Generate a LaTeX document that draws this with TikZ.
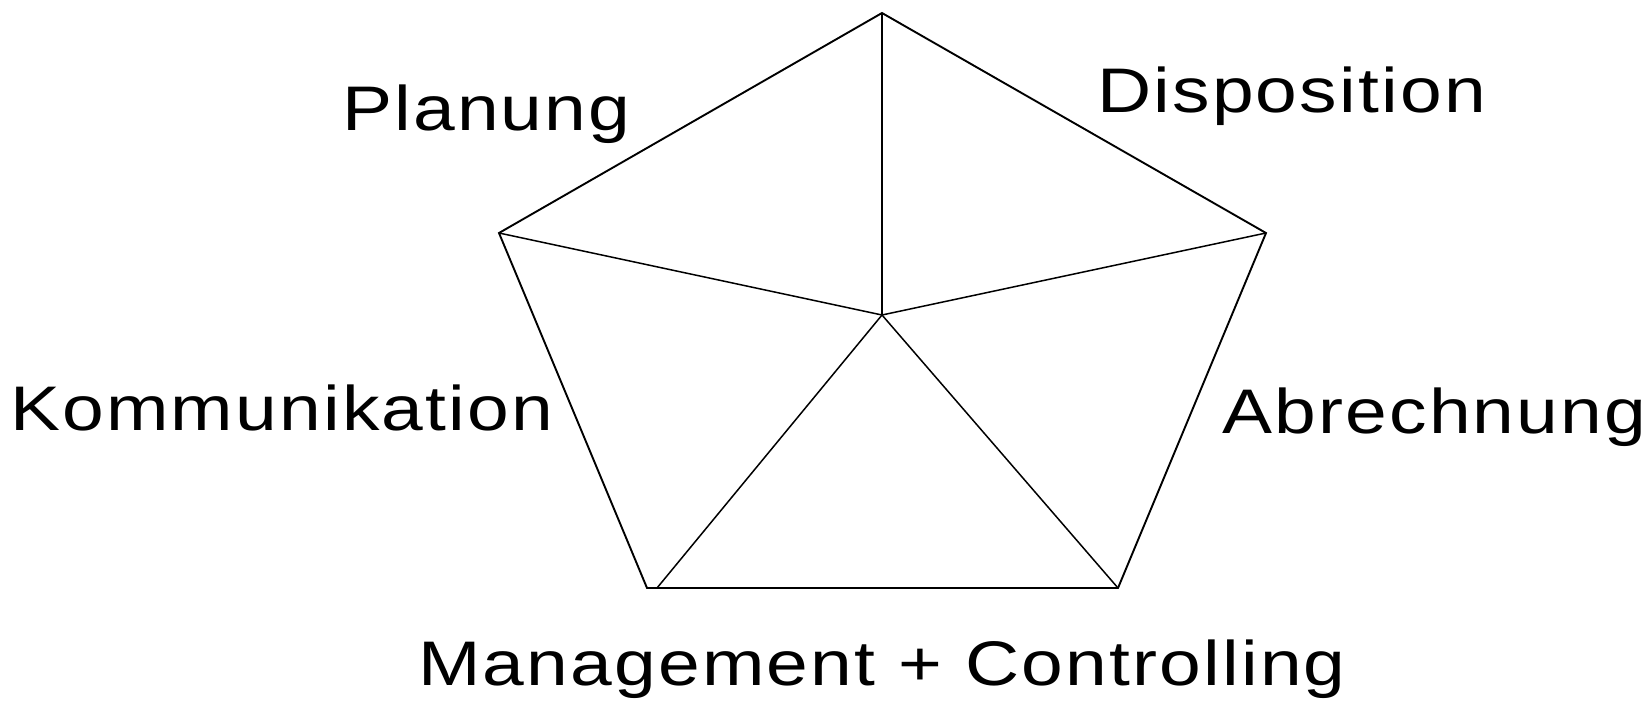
\documentclass[tikz,border=0pt]{standalone}
\usepackage{fontspec}
\setmainfont{Liberation Sans}
\newfontfamily\labelfont[FakeStretch=1.19,LetterSpace=3.5]{Liberation Sans}
\usetikzlibrary{calc}
\tikzset{
    edge line/.style={
        line width=1.9pt,
        black,
        line join=miter
    },
    spoke line/.style={
        line width=1.5pt,
        black
    },
    area label/.style={
        anchor=base west,
        inner sep=0pt,
        font=\labelfont\fontsize{63}{70}\selectfont
    }
}

\begin{document}
\begin{tikzpicture}[x=1pt,y=-1pt]
                \useasboundingbox (0,0) rectangle (1647,701);
                \coordinate (P1) at (882, 13);
                \coordinate (P2) at (1266, 233);
                \coordinate (P3) at (1118, 588);
                \coordinate (P4) at (647, 588);
                \coordinate (P5) at (499, 233);
                \coordinate (C) at (882, 315);
                \coordinate (Q4) at (657, 588);
                \draw[edge line] (P1) -- (P2) -- (P3) -- (P4) -- (P5) -- cycle;
                \draw[spoke line] (C) -- (P1);
                \draw[spoke line] (C) -- (P2);
                \draw[spoke line] (C) -- (P3);
                \draw[spoke line] (C) -- (Q4);
                \draw[spoke line] (C) -- (P5);
                \node[area label] (planung) at (342, 130) {Planung};
                \node[area label] (dispo) at (1097, 113) {Disposition};
                \node[area label] (komm) at (10, 430) {Kommunikation};
                \node[area label] (abr) at (1222, 433) {Abrechnung};
                \node[area label, anchor=base] (mgmt) at (882, 685) {Management + Controlling};
            \end{tikzpicture}
\end{document}
